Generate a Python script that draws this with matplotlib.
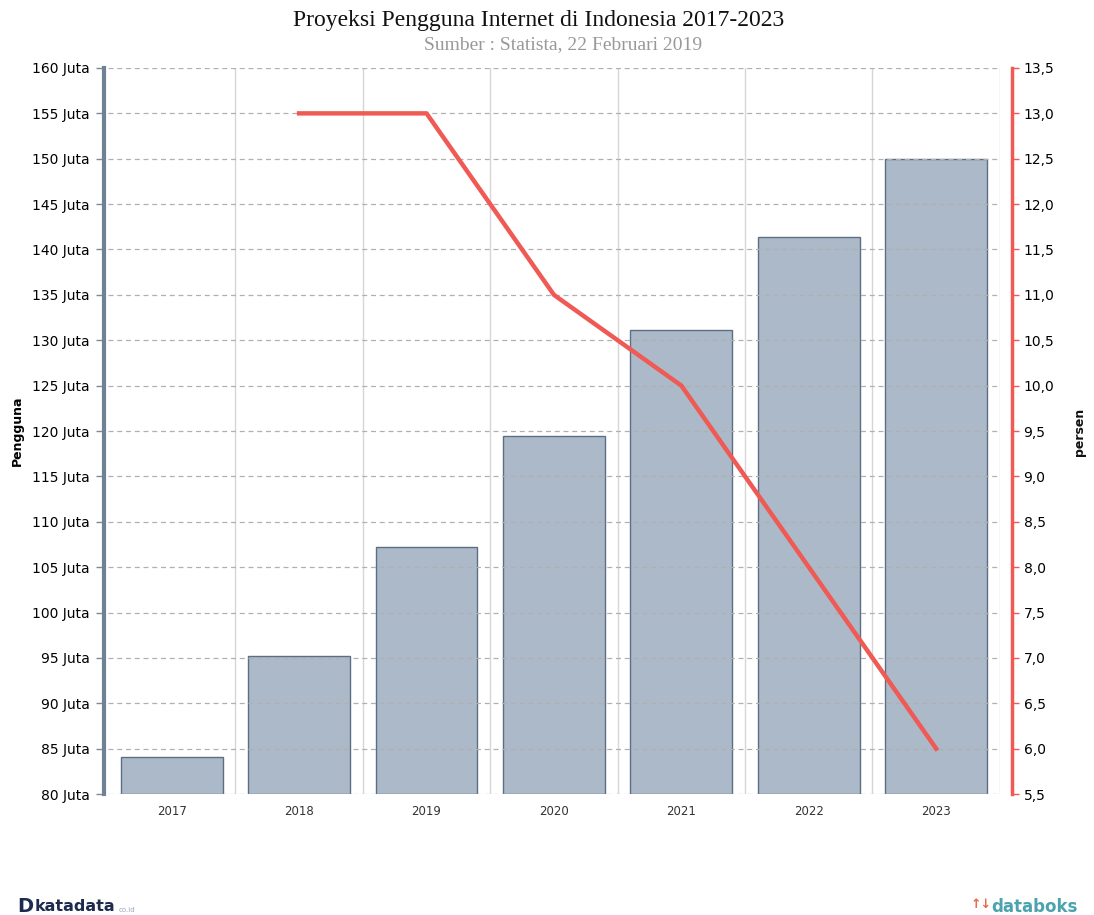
import numpy as np
import matplotlib.pyplot as plt
from matplotlib.ticker import FixedLocator

years = ["2017", "2018", "2019", "2020", "2021", "2022", "2023"]
pengguna = [84.1, 95.2, 107.2, 119.4, 131.1, 141.4, 150.0]  # juta
persen_years = ["2018", "2019", "2020", "2021", "2022", "2023"]
persen = [13.0, 13.0, 11.0, 10.0, 8.0, 6.0]

left_ticks = list(range(80, 161, 5))
right_ticks = [5.5 + 0.5 * i for i in range(17)]

fig = plt.figure(figsize=(10.94, 9.15), dpi=100)
ax = fig.add_axes([0.0987, 0.1322, 0.8153, 0.7935])

x = np.arange(len(years))
ax.bar(x, [v - 80 for v in pengguna], bottom=80, width=0.8,
       color="#acb9c9", edgecolor="#5c6e82", linewidth=1.0, zorder=2)
ax.set_xlim(-0.5, len(years) - 0.5)
ax.set_ylim(80, 160)
ax.set_xticks(x)
ax.set_xticklabels(years, fontsize=8.5, color="#333333")
ax.tick_params(axis="x", length=0, pad=8)
ax.yaxis.set_major_locator(FixedLocator(left_ticks))
ax.set_yticklabels([f"{t} Juta" for t in left_ticks], fontsize=7.5, color="#333333")
ax.tick_params(axis="y", length=6, width=1, color="#7a8a9a", pad=4)

# grid: solid vertical between categories, dashed horizontal
for b in np.arange(0.5, len(years) - 0.5, 1.0):
    ax.axvline(b, color="#d6d6d6", linewidth=1, zorder=1)
ax.axvline(len(years) - 0.5, color="#d6d6d6", linewidth=1, zorder=1)
for t in left_ticks:
    ax.axhline(t, color="#b0b0b0", linewidth=0.9, linestyle=(0, (4, 3)), zorder=3)

for s in ["top", "right", "bottom"]:
    ax.spines[s].set_visible(False)
ax.spines["left"].set_color("#6f8294")
ax.spines["left"].set_linewidth(3)
ax.spines["left"].set_position(("outward", 3))
ax.set_ylabel("Pengguna", fontsize=9, fontweight="bold", labelpad=6)

ax2 = ax.twinx()
px = [years.index(y) for y in persen_years]
ax2.plot(px, persen, color="#ef5a55", linewidth=3.2, zorder=5,
         solid_joinstyle="round")
ax2.set_ylim(5.5, 13.5)
ax2.yaxis.set_major_locator(FixedLocator(right_ticks))
ax2.set_yticklabels([f"{t:.1f}".replace(".", ",") for t in right_ticks],
                    fontsize=7.5, color="#333333")
ax2.tick_params(axis="y", length=5, width=1, color="#ef5a55", pad=3)
for s in ["top", "left", "bottom"]:
    ax2.spines[s].set_visible(False)
ax2.spines["right"].set_color("#ef5a55")
ax2.spines["right"].set_linewidth(2.5)
ax2.spines["right"].set_position(("outward", 9))
fig.text(0.9872, 0.528, "persen", ha="center", va="center", rotation=90,
         fontsize=9, fontweight="bold", color="#111111")

fig.text(0.492, 0.978, "Proyeksi Pengguna Internet di Indonesia 2017-2023",
         ha="center", va="center", fontsize=17, family="Liberation Serif",
         color="#111111")
fig.text(0.515, 0.951, "Sumber : Statista, 22 Februari 2019", ha="center",
         va="center", fontsize=14, family="Liberation Serif", color="#999999")

fig.text(0.016, 0.009, "D", ha="left", va="center", fontsize=14,
         fontweight="bold", color="#1d2b4f")
fig.text(0.032, 0.009, "katadata", ha="left", va="center", fontsize=11.5,
         fontweight="bold", color="#1d2b4f")
fig.text(0.108, 0.005, "co.id", ha="left", va="center", fontsize=5,
         color="#9aa5b5")
fig.text(0.985, 0.009, "databoks", ha="right", va="center", fontsize=12,
         fontweight="bold", color="#4aa3ad")
fig.text(0.906, 0.011, "\u2191\u2193", ha="right", va="center", fontsize=9,
         fontweight="bold", color="#e8684a")

fig.savefig("out.png", dpi=100)
